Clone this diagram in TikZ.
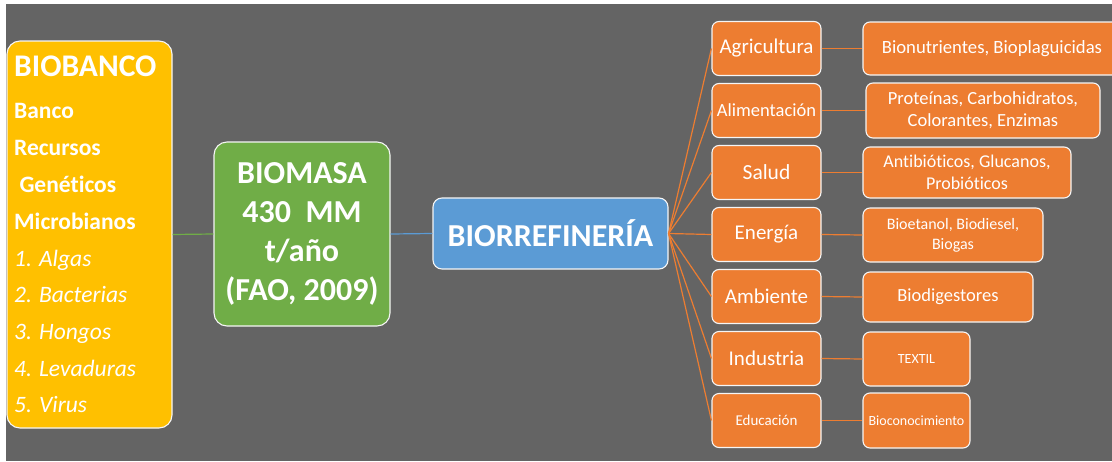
\documentclass[tikz,border=0pt]{standalone}
\usepackage{fontspec}
\setmainfont{Carlito}[Ligatures=NoCommon]
\definecolor{canvas}{HTML}{646464}
\definecolor{bankfill}{HTML}{FFC000}
\definecolor{massfill}{HTML}{70AD47}
\definecolor{refill}{HTML}{5B9BD5}
\definecolor{sectfill}{HTML}{ED7D31}
\tikzset{
  card/.style={draw=white!92!gray, line width=1.1pt, rounded corners=7pt,
    text=white, inner sep=2pt, align=center},
  bigcard/.style={card, rounded corners=13pt},
  sector/.style={card, fill=sectfill, minimum width=109pt, minimum height=54pt},
  product/.style={card, fill=sectfill},
  link/.style={line width=1.2pt},
  banktext/.style={anchor=base west, inner sep=0pt, text=white},
}
\begin{document}
\begin{tikzpicture}[x=1pt,y=-1pt]
\useasboundingbox (0,0) rectangle (1112,461);
\fill[white] (0,0) rectangle (1112,461);
\fill[canvas] (6,4) rectangle (1112,461);

% main chain
\node[bigcard, fill=bankfill, minimum width=165pt, minimum height=387pt] (bank) at (89.5,234.5) {};
\node[bigcard, fill=massfill, minimum width=176pt, minimum height=184pt,
  font=\bfseries\fontsize{32}{39}\selectfont] (mass) at (302,234)
  {BIOMASA\\430\ \ MM\\t/año\\(FAO, 2009)};
\node[card, rounded corners=9pt, fill=refill, minimum width=235pt, minimum height=71pt,
  font=\bfseries\fontsize{32}{36}\selectfont] (bio) at (550.5,233.5) {BIORREFINERÍA};

% biobank text
\node[banktext, font=\bfseries\fontsize{31.5}{36}\selectfont] (bk0) at (14,76) {BIOBANCO};
\node[banktext, font=\bfseries\fontsize{23.5}{28}\selectfont] (bk1) at (14,118) {Banco};
\node[banktext, font=\bfseries\fontsize{23.5}{28}\selectfont] (bk2) at (14,155) {Recursos};
\node[banktext, font=\bfseries\fontsize{23.5}{28}\selectfont] (bk3) at (14,192) {\ Genéticos};
\node[banktext, font=\bfseries\fontsize{23.5}{28}\selectfont] (bk4) at (14,229) {Microbianos};
\node[banktext, font=\itshape\fontsize{23.5}{28}\selectfont] (bk5) at (14,266) {1. Algas};
\node[banktext, font=\itshape\fontsize{23.5}{28}\selectfont] (bk6) at (14,302) {2. Bacterias};
\node[banktext, font=\itshape\fontsize{23.5}{28}\selectfont] (bk7) at (14,339) {3. Hongos};
\node[banktext, font=\itshape\fontsize{23.5}{28}\selectfont] (bk8) at (14,376) {4. Levaduras};
\node[banktext, font=\itshape\fontsize{23.5}{28}\selectfont] (bk9) at (14,412) {5. Virus};

% sectors
\node[sector, font=\fontsize{21}{24}\selectfont] (agr) at (766.5,48.5) {Agricultura};
\node[sector, font=\fontsize{18.5}{22}\selectfont] (ali) at (766.5,110.5) {Alimentación};
\node[sector, font=\fontsize{21.5}{24}\selectfont] (sal) at (766.5,172.5) {Salud};
\node[sector, font=\fontsize{21}{24}\selectfont] (ene) at (766.5,234.5) {Energía};
\node[sector, font=\fontsize{21}{24}\selectfont] (amb) at (766.5,296.5) {Ambiente};
\node[sector, font=\fontsize{21}{24}\selectfont] (ind) at (766.5,358.5) {Industria};
\node[sector, font=\fontsize{15}{18}\selectfont] (edu) at (766.5,420.5) {Educación};

% products
\node[product, minimum width=258pt, minimum height=53pt, font=\fontsize{18.7}{22}\selectfont]
  (p1) at (992,48.5) {Bionutrientes, Bioplaguicidas};
\node[product, minimum width=234pt, minimum height=55pt, font=\fontsize{18.5}{22}\selectfont]
  (p2) at (983,110.5) {Proteínas, Carbohidratos,\\Colorantes, Enzimas};
\node[product, minimum width=208pt, minimum height=51pt, font=\fontsize{18}{22}\selectfont]
  (p3) at (967,172.5) {Antibióticos, Glucanos,\\Probióticos};
\node[product, minimum width=180pt, minimum height=54pt, font=\fontsize{16}{20}\selectfont]
  (p4) at (953,235) {Bioetanol, Biodiesel,\\Biogas};
\node[product, minimum width=170pt, minimum height=50pt, font=\fontsize{18.5}{22}\selectfont]
  (p5) at (948,297) {Biodigestores};
\node[product, minimum width=107pt, minimum height=54pt, font=\fontsize{14}{18}\selectfont]
  (p6) at (916.5,359) {TEXTIL};
\node[product, minimum width=107pt, minimum height=55pt, inner sep=0pt, font=\fontsize{14}{18}\selectfont]
  (p7) at (916.5,420.5) {Bioconocimiento};

% connectors
\draw[link, massfill] (bank.east) -- (mass.west);
\draw[link, refill] (mass.east) -- (bio.west);
\foreach \s/\p in {agr/p1, ali/p2, sal/p3, ene/p4, amb/p5, ind/p6, edu/p7}{
  \draw[link, sectfill] (bio.east) -- (\s.west);
  \draw[link, sectfill] (\s.east) -- (\p.west);
}
\end{tikzpicture}
\end{document}
